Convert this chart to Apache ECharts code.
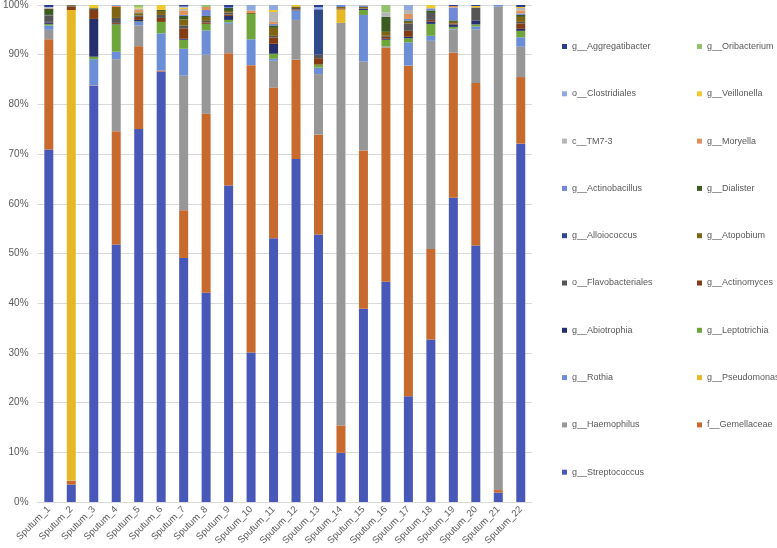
<!DOCTYPE html>
<html>
<head>
<meta charset="utf-8">
<script src="https://cdn.jsdelivr.net/npm/echarts@6/dist/echarts.min.js"></script>
<style>html,body{margin:0;padding:0;background:#fff}#c{width:777px;height:548px}</style>
</head>
<body>
<div id="c"></div>
<script>
const categories = ["Sputum_1","Sputum_2","Sputum_3","Sputum_4","Sputum_5","Sputum_6","Sputum_7","Sputum_8","Sputum_9","Sputum_10","Sputum_11","Sputum_12","Sputum_13","Sputum_14","Sputum_15","Sputum_16","Sputum_17","Sputum_18","Sputum_19","Sputum_20","Sputum_21","Sputum_22"];

const streptococcus   = [70.9,3.5,83.7,51.8,75.1,86.6,49.1,42.1,63.7,30.1,53.0,69,53.8,9.9,38.9,44.3,21.3,32.7,61.2,51.6,1.9,72.1];
const gemellaceae     = [22.2,0.8,0.1,22.8,16.7,0.2,9.6,36,26.6,57.8,30.3,20,20.1,5.5,31.8,47.1,66.5,18.2,29.2,32.7,0.5,13.4];
const haemophilus     = [1.9,0,0,14.5,4.2,0,27.1,11.9,5.9,0,5.4,8,12.2,81,17.9,0.3,0,41.9,4.7,10.8,97.3,6.1];
const pseudomonas     = [0,94.7,0,0,0,0,0,0,0,0,0,0,0,2.7,0,0,0,0,0,0,0,0];
const rothia          = [0.9,0,5.3,1.5,0.7,7.5,5.4,4.9,0.3,5.2,0.4,1.9,1.3,0,9.4,0,4.7,1.0,0.1,0.6,0.3,1.9];
const leptotrichia    = [0.3,0,0.5,5.5,0.1,2.3,1.8,1.3,0.5,5.1,1.0,0,0.6,0,1.0,1.3,0.8,2.4,0.4,0.4,0,1.3];
const abiotrophia     = [0.3,0,7.6,0.1,0.3,0,0.2,0,0.8,0,2.0,0,0,0,0.2,0.2,0.3,0.5,0.5,0.8,0,0.4];
const actinomyces     = [0.1,0.7,1.8,0.2,0.6,0.8,2.1,0.3,0.3,0,1.3,0.2,1.3,0.2,0,0.4,1.2,0.3,0.2,0,0,1.1];
const flavobacteriales= [1.2,0.1,0.2,1.0,0.3,0.6,0.6,0.3,0.4,0,0.3,0.3,0.7,0,0.1,0.2,1.5,1.4,0,2.6,0,0.3];
const atopobium       = [0.1,0.1,0.1,2.2,0.4,0.8,1.2,0.8,0.3,0.2,1.6,0.3,0,0.3,0.3,0.8,0.3,0,0.3,0,0,1.0];
const alloiococcus    = [0.1,0,0,0,0,0,0,0,0,0,0,0,9.0,0,0,0,0,0,0,0,0,0];
const dialister       = [1.2,0.1,0.1,0,0.2,0.2,0.7,0.2,0.6,0,0.5,0,0,0,0,3.0,0.3,0.5,0.3,0,0,0.4];
const actinobacillus  = [0.1,0,0,0,0,0,0.2,1.2,0.2,0,0.3,0,0.3,0.4,0.2,0,0.3,0.3,2.6,0,0,0.3];
const moryella        = [0.1,0,0,0.2,0.5,0,0.9,0.6,0,0.4,0.4,0,0,0,0,0,1.0,0,0.3,0,0,0.6];
const tm73            = [0.1,0,0,0,0.3,0,0.3,0,0,0.2,2.0,0,0,0,0.2,0.9,0.8,0.2,0,0,0,0.5];
const veillonella     = [0,0,0.6,0,0.2,1.0,0.3,0,0,0,0.4,0.3,0,0,0,0,0,0.6,0,0.3,0,0.2];
const clostridiales   = [0.1,0,0,0.2,0,0,0.2,0,0,1.0,1.0,0,0.3,0,0,0,1.0,0,0,0,0,0];
const oribacterium    = [0,0,0,0,0.5,0,0,0.4,0,0,0,0,0,0,0,1.5,0,0,0,0,0,0];
const aggregatibacter = [0.4,0,0,0,0,0,0.3,0,0.4,0,0,0,0.4,0,0,0,0,0,0.2,0.2,0,0.4];

const yTicks = ["0%","10%","20%","30%","40%","50%","60%","70%","80%","90%","100%"];

const seriesDefs = [
  ["g__Streptococcus", streptococcus, "#4858B8"],
  ["f__Gemellaceae", gemellaceae, "#C8692D"],
  ["g__Haemophilus", haemophilus, "#979797"],
  ["g__Pseudomonas", pseudomonas, "#E6B828"],
  ["g__Rothia", rothia, "#6B8ED6"],
  ["g__Leptotrichia", leptotrichia, "#6FA63C"],
  ["g__Abiotrophia", abiotrophia, "#262F6E"],
  ["g__Actinomyces", actinomyces, "#843C14"],
  ["o__Flavobacteriales", flavobacteriales, "#555555"],
  ["g__Atopobium", atopobium, "#7F6414"],
  ["g__Alloiococcus", alloiococcus, "#2F4A8A"],
  ["g__Dialister", dialister, "#3B5B22"],
  ["g__Actinobacillus", actinobacillus, "#7088D6"],
  ["g__Moryella", moryella, "#E0925C"],
  ["c__TM7-3", tm73, "#B5B5B5"],
  ["g__Veillonella", veillonella, "#F0C830"],
  ["o__Clostridiales", clostridiales, "#8FA8DE"],
  ["g__Oribacterium", oribacterium, "#94C16C"],
  ["g__Aggregatibacter", aggregatibacter, "#2D3D8E"]
];

const totals = categories.map((_, i) => seriesDefs.reduce((s, d) => s + d[1][i], 0));

const series = seriesDefs.map(d => ({
  name: d[0],
  type: 'bar',
  stack: 'all',
  barWidth: '40%',
  itemStyle: { color: d[2] },
  data: d[1].map((v, i) => v / totals[i] * 100)
}));

const leftLegend = ["g__Aggregatibacter","o__Clostridiales","c__TM7-3","g__Actinobacillus","g__Alloiococcus","o__Flavobacteriales","g__Abiotrophia","g__Rothia","g__Haemophilus","g__Streptococcus"];
const rightLegend = ["g__Oribacterium","g__Veillonella","g__Moryella","g__Dialister","g__Atopobium","g__Actinomyces","g__Leptotrichia","g__Pseudomonas","f__Gemellaceae"];

const font = "'Liberation Sans', Arial, sans-serif";
const legendCommon = {
  orient: 'vertical',
  itemWidth: 5,
  itemHeight: 5,
  itemGap: 33.3,
  icon: 'rect',
  padding: 0,
  selectedMode: false,
  textStyle: { color: '#595959', fontSize: 9, fontFamily: font, lineHeight: 14 }
};

const chart = echarts.init(document.getElementById('c'), null, { renderer: 'canvas' });
chart.setOption({
  animation: false,
  grid: { left: 32, right: 245, top: 5, bottom: 45 },
  legend: [
    Object.assign({}, legendCommon, { left: 562, top: 39.5, data: leftLegend }),
    Object.assign({}, legendCommon, { left: 697, top: 39.5, data: rightLegend })
  ],
  xAxis: {
    type: 'category',
    data: categories,
    axisLine: { lineStyle: { color: '#d9d9d9' } },
    axisTick: { show: false },
    axisLabel: { rotate: 45, color: '#595959', fontSize: 9.5, fontFamily: font, margin: 6, interval: 0 }
  },
  yAxis: {
    type: 'value',
    min: 0, max: 100, interval: 10,
    axisLine: { show: false },
    axisTick: { show: false },
    splitLine: { lineStyle: { color: '#d9d9d9' } },
    axisLabel: { color: '#595959', fontSize: 10, fontFamily: font, margin: 9,
      formatter: v => yTicks[Math.round(v / 10)] }
  },
  series: series
});
</script>
</body>
</html>
